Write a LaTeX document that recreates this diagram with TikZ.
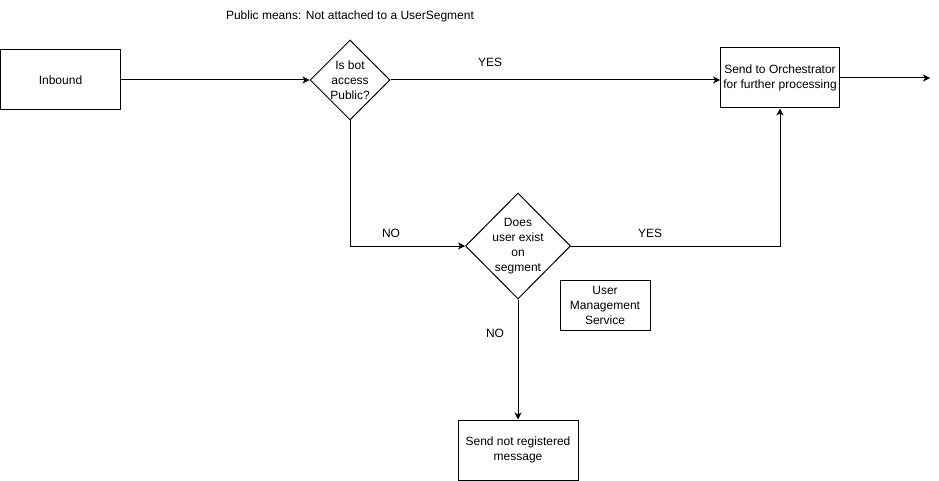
\documentclass[tikz,border=0pt]{standalone}
\usepackage{fontspec}
\setmainfont{Liberation Sans}
\usetikzlibrary{shapes.geometric,arrows.meta}
\begin{document}
\begin{tikzpicture}[x=1pt,y=-1pt,
  every node/.style={font=\fontsize{12}{15}\selectfont},
  box/.style={draw,line width=1pt,inner sep=0pt,align=center},
  dia/.style={draw,diamond,line width=1pt,inner sep=0pt},
  lbl/.style={inner sep=0pt,align=center},
  conn/.style={line width=1pt,-{Stealth[length=7pt,width=7pt,inset=2pt]}},
  plain/.style={line width=1pt}]
\useasboundingbox (0,0) rectangle (939,481);
\node[box,minimum width=120pt,minimum height=60pt] (inb) at (60.5,80) {Inbound};
\node[dia,minimum width=80pt,minimum height=80pt] (d1) at (350,80) {};
\node[lbl] (d1t) at (350,80) {Is bot\\access\\Public?};
\node[box,minimum width=119pt,minimum height=60pt] (orch) at (780,78) {Send to Orchestrator\\for further processing};
\coordinate (out) at (930,78);
\node[dia,minimum width=105pt,minimum height=106pt] (d2) at (518,246) {};
\node[lbl] (d2t) at (518,246) {Does\\user exist\\on\\segment};
\node[box,minimum width=90pt,minimum height=50pt] (ums) at (605,305) {User\\Management\\Service};
\node[box,minimum width=120pt,minimum height=60pt] (reg) at (518,450) {Send not registered\\message};
\node[lbl] (pub) at (350,16) {Public means: Not attached to a UserSegment};
\node[lbl] (yes1) at (490,62) {YES};
\node[lbl] (no1) at (391,233) {NO};
\node[lbl] (yes2) at (650,233) {YES};
\node[lbl] (no2) at (495,333) {NO};
\draw[conn] (inb.east) -- (d1.west);
\draw[conn] (d1.east) -- (d1.east -| orch.west);
\draw[conn] (orch.east) -- (out);
\draw[conn] (d1.south) |- (d2.west);
\draw[conn] (d2.east) -| (orch.south);
\draw[conn] (d2.south) -- (reg.north);
\end{tikzpicture}
\end{document}
